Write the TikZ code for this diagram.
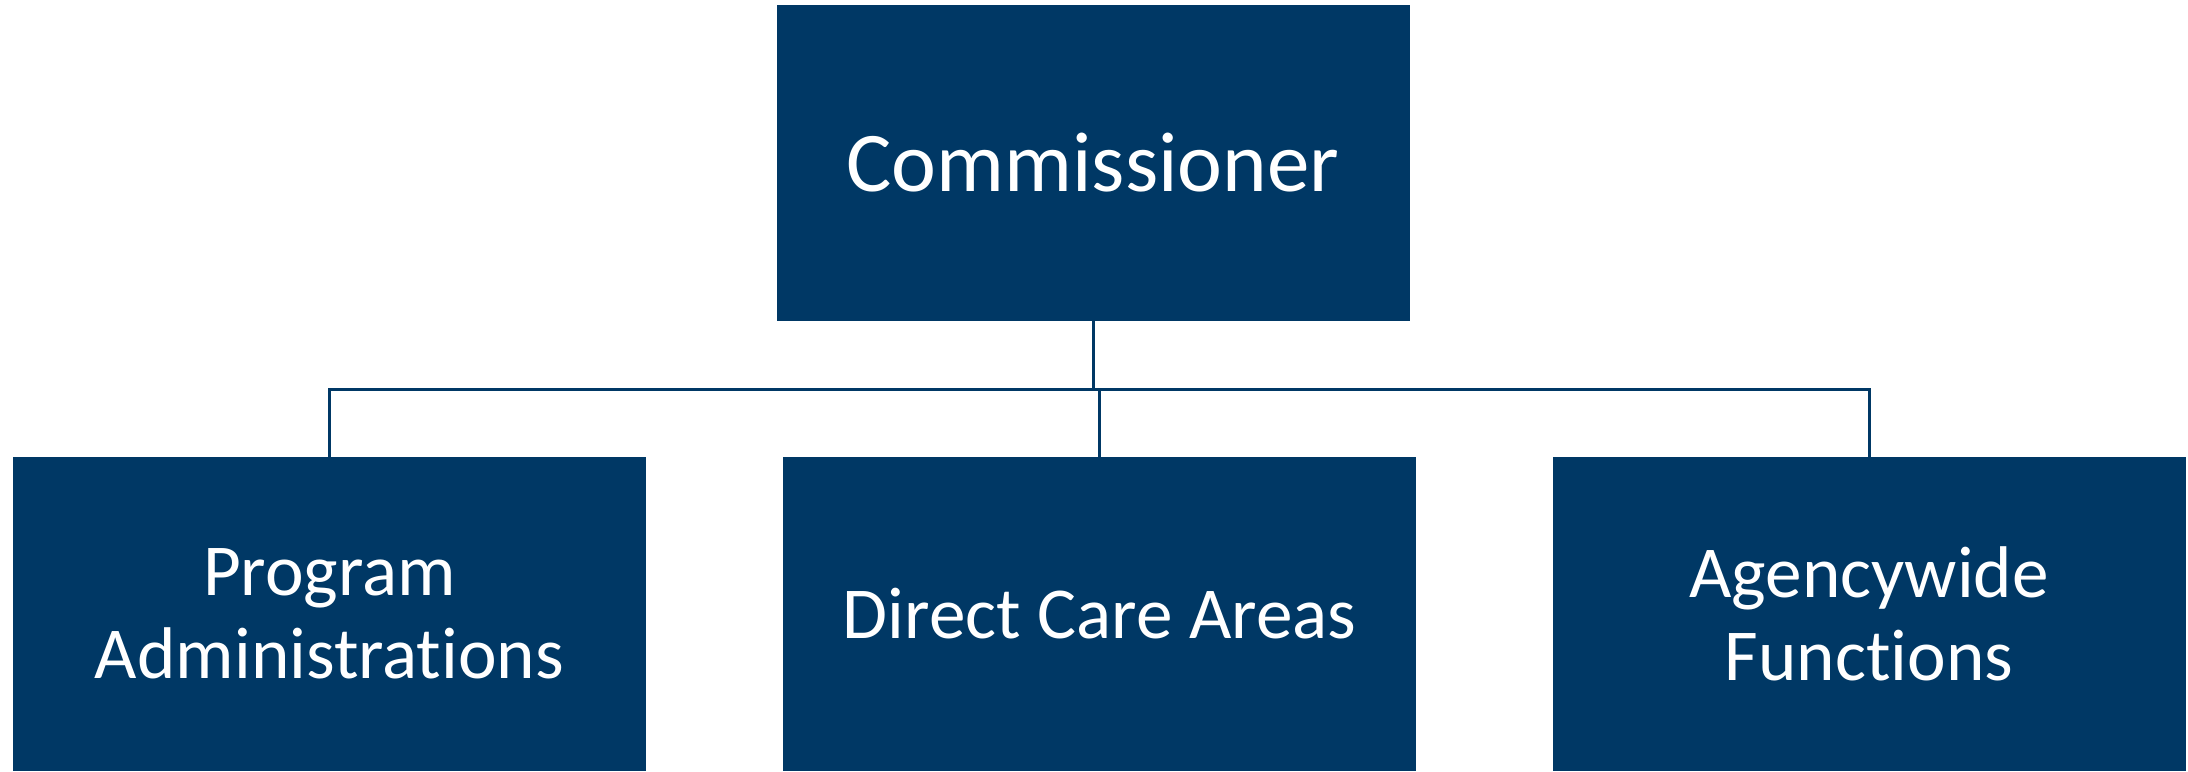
\documentclass[tikz,border=0pt]{standalone}
\usepackage{fontspec}
\setmainfont{Carlito}[Ligatures={NoCommon,NoRare,NoDiscretionary}]
\usepackage{tikz}
\definecolor{navy}{RGB}{0,56,101}
\def\unit{\node[unit]}
\def\link{\draw[navy,line width=1.5pt]}

\begin{document}
\begin{tikzpicture}[x=0.5pt,y=-0.5pt,
    unit/.style={fill=navy,text=white,inner sep=0pt,align=center,
                 minimum width=316.5pt,minimum height=157pt,
                 font=\fontsize{36.6}{41.5}\selectfont}]
                \useasboundingbox (0,0) rectangle (2188,771);
                \node[unit,minimum height=158pt,font=\fontsize{42.5}{48}\selectfont]
                    (head) at (1093,163) {Commissioner};
                \unit (prog)   at ( 329.5,614) {Program\\Administrations};
                \unit (care)   at (1099.5,614) {Direct Care Areas};
                \unit (agency) at (1869  ,614) {Agencywide\\Functions};
                \coordinate (bar) at (0,389);
                \link (head.south) -- (head.south |- bar);
                \link (prog.north) -- (prog.north |- bar) -- (agency.north |- bar) -- (agency.north);
                \link (care.north) -- (care.north |- bar);
            \end{tikzpicture}
\end{document}
